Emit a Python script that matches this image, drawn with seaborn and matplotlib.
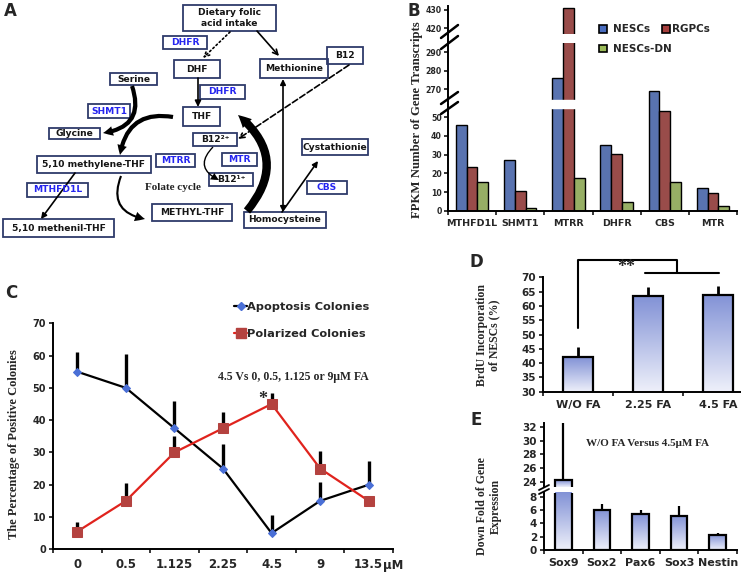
import matplotlib
matplotlib.use('Agg')
import matplotlib.pyplot as plt
from matplotlib.patches import Rectangle, FancyArrowPatch
from matplotlib.lines import Line2D
from matplotlib.colors import LinearSegmentedColormap
import numpy as np
import pandas as pd
import seaborn as sns

# ---- data ----
# B: FPKM of folate-cycle genes
genes = ['MTHFD1L', 'SHMT1', 'MTRR', 'DHFR', 'CBS', 'MTR']
nescs = [46, 27, 276, 35, 269, 12.3]
rgpcs = [23.5, 10.5, 431, 30.4, 53.5, 9.6]
nescs_dn = [15.2, 1.3, 17.3, 4.5, 15.2, 2.7]

# C: colonies vs folic acid dose
doses = ['0', '0.5', '1.125', '2.25', '4.5', '9', '13.5']
apoptosis = [55, 50, 37.5, 25, 5, 15, 20]
apoptosis_err = [6, 10.5, 8.5, 7.5, 5.5, 6, 7.5]
polarized = [5.5, 15, 30, 37.5, 45, 25, 15]
polarized_err = [3, 5.5, 5, 5, 3.5, 5.5, 0]

# D: BrdU incorporation
brdu_groups = ['W/O FA', '2.25 FA', '4.5 FA']
brdu = [42, 63.5, 64]
brdu_err = [3.5, 3.2, 3]

# E: down fold of gene expression
marker_genes = ['Sox9', 'Sox2', 'Pax6', 'Sox3', 'Nestin']
down_fold = [24.2, 6.0, 5.35, 5.1, 2.25]
down_fold_err = [9.5, 0.9, 0.65, 1.5, 0.35]

sns.set_style('white')
plt.rcParams['font.family'] = ['DejaVu Sans']
SERIF = 'Liberation Serif'
BOLD = dict(fontweight='bold')

W, H = 741, 574
fig = plt.figure(figsize=(W / 100, H / 100), dpi=100)


def px_axes(l, t, r, b):
    return fig.add_axes([l / W, 1 - b / H, (r - l) / W, (b - t) / H])


def style_axes(ax, bottom=True, ysize=6.5, pad=2):
    sns.despine(ax=ax, top=True, right=True, bottom=not bottom)
    for s in ['left', 'bottom']:
        ax.spines[s].set_linewidth(1.4)
        ax.spines[s].set_color('black')
    ax.tick_params(axis='y', left=True, length=3, width=1.3, pad=pad, labelsize=ysize)
    for lab in ax.get_yticklabels():
        lab.set_fontweight('bold')
    ax.set_xlabel('')
    ax.set_ylabel('')


def cat_xticks(ax, labels, size):
    n = len(labels)
    ax.set_xticks(range(n))
    ax.set_xticklabels(labels, fontsize=size, fontweight='bold')
    ax.set_xticks(np.arange(-0.5, n, 1), minor=True)
    ax.tick_params(axis='x', which='major', length=0, pad=6)
    ax.tick_params(axis='x', which='minor', bottom=True, length=3, width=1.3)
    ax.set_xlim(-0.5, n - 0.5)


grad_cmap = LinearSegmentedColormap.from_list('fade', ['#eef0fa', '#8292d6'])


def gradient_bars(ax):
    lo, hi = ax.get_ylim()
    xl = ax.get_xlim()
    grad = np.linspace(0, 1, 128).reshape(-1, 1)
    for bar in list(ax.patches):
        x, w = bar.get_x(), bar.get_width()
        top = bar.get_y() + bar.get_height()
        im = ax.imshow(grad, extent=[x, x + w, lo, min(top, hi)], origin='lower',
                       cmap=grad_cmap, aspect='auto', zorder=0.5)
        im.set_clip_path(bar)
        bar.set_facecolor('none')
        bar.set_zorder(2)
    ax.set_ylim(lo, hi)
    ax.set_xlim(xl)


# overlay in pixel coordinates for panel A, letters and labels
ov = fig.add_axes([0, 0, 1, 1], zorder=10)
ov.set_xlim(0, W)
ov.set_ylim(H, 0)
ov.axis('off')

# ---------------- panel A : folate cycle diagram ----------------
def box(x0, y0, x1, y1, label, blue=False):
    ov.add_patch(Rectangle((x0, y0), x1 - x0, y1 - y0, fill=False, ec='#2e3a6a', lw=1.3))
    ov.text((x0 + x1) / 2, (y0 + y1) / 2, label, ha='center', va='center', fontsize=6.6,
            color='#2525f0' if blue else '#151515', linespacing=1.25, **BOLD)


def arrow(p0, p1, rad=0.0, lw=1.2, ls='-', style='-|>', ms=8, thick=False):
    if thick:
        style = 'simple,head_length=0.7,head_width=0.7,tail_width=%.2f' % thick
        a = FancyArrowPatch(p0, p1, connectionstyle='arc3,rad=%s' % rad, arrowstyle=style,
                            mutation_scale=ms, lw=0, color='black', shrinkA=0, shrinkB=0)
    else:
        a = FancyArrowPatch(p0, p1, connectionstyle='arc3,rad=%s' % rad, arrowstyle=style,
                            mutation_scale=ms, lw=lw, ls=ls, color='black', shrinkA=0, shrinkB=0)
    ov.add_patch(a)


box(183, 5, 276, 31, 'Dietary folic\nacid intake')
box(163, 36, 207, 49, 'DHFR', blue=True)
box(174, 60, 220, 78, 'DHF')
box(260, 59, 328, 78, 'Methionine')
box(327, 47, 363, 64, 'B12')
box(110, 73, 157, 85, 'Serine')
box(200, 85, 245, 99, 'DHFR', blue=True)
box(88, 104, 130, 118, 'SHMT1', blue=True)
box(183, 107, 220, 126, 'THF')
box(49, 128, 100, 139, 'Glycine')
box(193, 133, 237, 146, 'B12²⁺')
box(302, 139, 368, 155, 'Cystathionie')
box(37, 156, 151, 173, '5,10 methylene-THF')
box(156, 154, 195, 167, 'MTRR', blue=True)
box(222, 153, 257, 166, 'MTR', blue=True)
box(209, 173, 253, 186, 'B12¹⁺')
box(27, 183, 88, 197, 'MTHFD1L', blue=True)
box(307, 181, 347, 194, 'CBS', blue=True)
box(152, 204, 232, 221, 'METHYL-THF')
box(244, 212, 326, 228, 'Homocysteine')
box(3, 219, 114, 237, '5,10 methenil-THF')
ov.text(173, 188, 'Folate cycle', ha='center', va='center', fontsize=8,
        family=SERIF, color='#222222', **BOLD)

arrow((230, 32), (203, 58), ls=':', style='->', ms=9)
arrow((257, 31), (279, 56), style='->', ms=9)
arrow((198, 78), (198, 107), ms=9)
arrow((349, 65), (238, 139), ls='--', style='->', ms=9)
arrow((283, 79), (283, 212), style='<|-|>', ms=8)
arrow((282, 212), (318, 161), ms=8)
arrow((75, 173), (41, 219), ms=8)
arrow((132, 86), (103, 133), rad=-0.6, thick=0.3, ms=10)
arrow((173, 117), (120, 155), rad=0.5, thick=0.3, ms=10)
arrow((121, 176), (145, 219), rad=0.6, thick=0.15, ms=10)
arrow((247, 211), (238, 115), rad=0.5, thick=0.45, ms=13)
arrow((213, 147), (219, 180), rad=0.7, thick=0.12, ms=8)

# ---------------- panel B : broken-axis grouped bars ----------------
dfB = pd.DataFrame({'gene': genes * 3,
                    'cell': ['NESCs'] * 6 + ['RGPCs'] * 6 + ['NESCs-DN'] * 6,
                    'fpkm': nescs + rgpcs + nescs_dn})
palB = {'NESCs': '#4a6dbf', 'RGPCs': '#a63f3d', 'NESCs-DN': '#9bbb59'}
axB_bot = px_axes(448, 104, 737, 210.7)
axB_mid = px_axes(448, 43, 737, 104)
axB_top = px_axes(448, 6.3, 737, 33.8)
for ax, lim, ticks in [(axB_bot, (0, 57.1), range(0, 60, 10)),
                       (axB_mid, (262.05, 295), [270, 280, 290]),
                       (axB_top, (417, 432), [420, 430])]:
    sns.barplot(data=dfB, x='gene', y='fpkm', hue='cell', palette=palB, width=0.67,
                edgecolor='black', linewidth=1, errorbar=None, legend=False, ax=ax)
    ax.set_ylim(lim)
    ax.set_yticks(list(ticks))
    style_axes(ax, bottom=ax is axB_bot, ysize=5.6, pad=1.5)
    if ax is axB_bot:
        cat_xticks(ax, genes, 6.8)
    else:
        ax.set_xticks([])
        ax.set_xlim(-0.5, 5.5)
# white break through the MTRR bars
axB_bot.add_patch(Rectangle((1.64, 55), 0.72, 3, color='white', zorder=5, clip_on=True))
axB_mid.add_patch(Rectangle((1.64, 261), 0.72, 3.2, color='white', zorder=5, clip_on=True))
for (x0, y0, x1, y1) in [(441, 38, 458, 25), (441, 49, 458, 36),
                         (441, 104, 458, 92), (441, 114, 458, 102)]:
    ov.plot([x0, x1], [y0, y1], color='black', lw=1.8)
ov.plot([448, 448], [33.8, 43], color='black', lw=1.4)

legB_font = dict(size=7.5, weight='bold')
fig.legend([Rectangle((0, 0), 1, 1, fc=palB[k], ec='black', lw=1.2) for k in ['NESCs', 'NESCs-DN']],
           ['NESCs', 'NESCs-DN'], loc='upper left', bbox_to_anchor=(590 / W, 1 - 15 / H),
           frameon=False, handlelength=0.75, handleheight=0.75, handletextpad=0.6,
           labelspacing=0.95, prop=legB_font)
fig.legend([Rectangle((0, 0), 1, 1, fc=palB['RGPCs'], ec='black', lw=1.2)], ['RGPCs'],
           loc='upper left', bbox_to_anchor=(653 / W, 1 - 15 / H), frameon=False,
           handlelength=0.75, handleheight=0.75, handletextpad=0.15, prop=legB_font)
ov.text(417, 120, 'FPKM Number of Gene Transcripts', rotation=90, ha='center', va='center',
        fontsize=9.2, family=SERIF, **BOLD)

# ---------------- panel C : line plot ----------------
axC = px_axes(53, 323.3, 393, 549.3)
dfC = pd.DataFrame({'pos': np.arange(len(doses)), 'apoptosis': apoptosis, 'polarized': polarized})
axC.vlines(dfC['pos'], apoptosis, np.add(apoptosis, apoptosis_err), color='black', lw=2.4, zorder=1)
axC.vlines(dfC['pos'], polarized, np.add(polarized, polarized_err), color='black', lw=2.4, zorder=1)
sns.lineplot(data=dfC, x='pos', y='apoptosis', color='black', lw=1.6, marker='D', markersize=4,
             markerfacecolor='#4a6fd6', markeredgecolor='#4a6fd6', ax=axC, zorder=3)
sns.lineplot(data=dfC, x='pos', y='polarized', color='#e0231d', lw=1.6, marker='s', markersize=6.5,
             markerfacecolor='#b4423f', markeredgecolor='#b4423f', ax=axC, zorder=3)
axC.set_ylim(0, 70)
axC.set_yticks(range(0, 80, 10))
style_axes(axC, ysize=7)
cat_xticks(axC, doses, 8.5)
ov.text(393, 565, 'μM', ha='center', va='center', fontsize=8.5, **BOLD)
handlesC = [Line2D([], [], color='black', lw=1.6, marker='D', ms=4, mfc='#4a6fd6', mec='#4a6fd6'),
            Line2D([], [], color='#e0231d', lw=1.6, marker='s', ms=6.5, mfc='#b4423f', mec='#b4423f')]
fig.legend(handlesC, ['Apoptosis Colonies', 'Polarized Colonies'], loc='upper left',
           bbox_to_anchor=(224 / W, 1 - 292 / H), frameon=False, handlelength=1.1,
           handletextpad=0.05, labelspacing=1.45, prop=dict(size=8.2, weight='bold'))
ov.text(293, 377, '4.5 Vs 0, 0.5, 1.125 or 9μM FA', ha='center', va='center', fontsize=8.5,
        family=SERIF, **BOLD)
ov.text(263, 399, '*', ha='center', va='center', fontsize=13, family=SERIF, **BOLD)
ov.text(14, 444, 'The Percentage of Positive Colonies', rotation=90, ha='center', va='center',
        fontsize=9, family=SERIF, **BOLD)

# ---------------- panel D : BrdU bars ----------------
axD = px_axes(543, 277.4, 753, 391.7)
sns.barplot(x=brdu_groups, y=brdu, color='#8292d6', width=0.42, edgecolor='black', linewidth=1.6,
            errorbar=None, ax=axD)
axD.set_ylim(30, 70)
axD.set_yticks(range(30, 75, 5))
style_axes(axD, ysize=7.5)
cat_xticks(axD, brdu_groups, 8)
gradient_bars(axD)
axD.vlines(range(3), brdu, np.add(brdu, brdu_err), color='black', lw=2, zorder=3)
axD.plot([0, 0, 1.41, 1.41], [52.3, 76.1, 76.1, 71.4], color='black', lw=1.5, clip_on=False)
axD.plot([0.96, 2.01], [71.4, 71.4], color='black', lw=1.5, clip_on=False)
axD.text(0.69, 73.6, '**', ha='center', va='center', fontsize=13, family=SERIF, **BOLD)
ov.text(488, 335, 'BrdU Incorporation\nof NESCs (%)', rotation=90, ha='center', va='center',
        fontsize=8.5, family=SERIF, linespacing=1.1, **BOLD)

# ---------------- panel E : broken-axis bars ----------------
axE_bot = px_axes(544, 492.6, 737, 550)
axE_top = px_axes(544, 422.5, 737, 487.1)
for ax, lim, ticks in [(axE_bot, (0, 8.6), range(0, 10, 2)), (axE_top, (23.2, 32.7), range(24, 34, 2))]:
    sns.barplot(x=marker_genes, y=down_fold, color='#8292d6', width=0.43, edgecolor='black',
                linewidth=1.6, errorbar=None, ax=ax)
    ax.set_ylim(lim)
    ax.set_yticks(list(ticks))
    style_axes(ax, bottom=ax is axE_bot, ysize=7.5)
    if ax is axE_bot:
        cat_xticks(ax, marker_genes, 8)
    else:
        ax.set_xticks([])
        ax.set_xlim(-0.5, 4.5)
    gradient_bars(ax)
    ax.vlines(range(5), down_fold, np.add(down_fold, down_fold_err), color='black', lw=1.6, zorder=3)
for (x0, y0, x1, y1) in [(539, 490, 549, 485), (539, 494, 549, 489)]:
    ov.plot([x0, x1], [y0, y1], color='black', lw=1.3)
ov.text(647, 443, 'W/O FA Versus 4.5μM FA', ha='center', va='center', fontsize=8,
        family=SERIF, **BOLD)
ov.text(489, 506, 'Down Fold of Gene\nExpression', rotation=90, ha='center', va='center',
        fontsize=8.5, family=SERIF, linespacing=1.3, **BOLD)

# panel letters
for letter, (x, y) in {'A': (10, 11), 'B': (414, 11), 'C': (11, 293), 'D': (476, 262), 'E': (476, 420)}.items():
    ov.text(x, y, letter, ha='center', va='center', fontsize=12, **BOLD)

fig.savefig('out.png', dpi=100)
